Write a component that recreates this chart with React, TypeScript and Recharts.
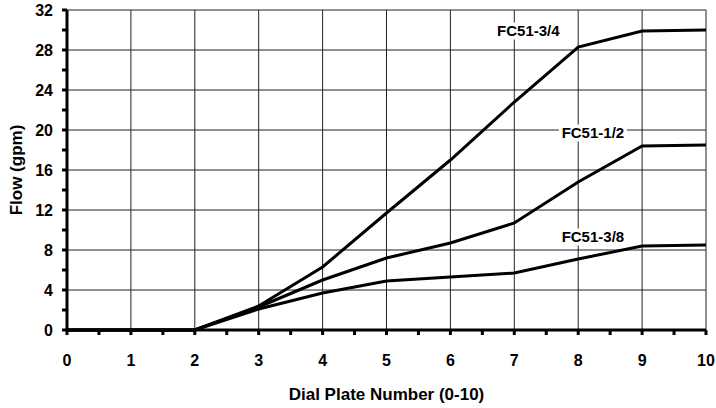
import React from 'react';
import {
  LineChart,
  Line,
  XAxis,
  YAxis,
  CartesianGrid,
  ReferenceDot,
} from 'recharts';

const dialPlate = [0, 1, 2, 3, 4, 5, 6, 7, 8, 9, 10];
const flow34 = [0, 0, 0, 2.4, 6.3, 11.7, 17.0, 22.8, 28.3, 29.9, 30.0];
const flow12 = [0, 0, 0, 2.3, 5.0, 7.2, 8.7, 10.7, 14.8, 18.4, 18.5];
const flow38 = [0, 0, 0, 2.1, 3.7, 4.9, 5.3, 5.7, 7.1, 8.4, 8.5];

const xTicks = [0, 0.5, 1, 1.5, 2, 2.5, 3, 3.5, 4, 4.5, 5, 5.5, 6, 6.5, 7, 7.5, 8, 8.5, 9, 9.5, 10];
const yTicks = [0, 2, 4, 6, 8, 10, 12, 14, 16, 18, 20, 22, 24, 26, 28, 30, 32];
const xGrid = [1, 2, 3, 4, 5, 6, 7, 8, 9, 10];
const yGrid = [4, 8, 12, 16, 20, 24, 28, 32];

const seriesLabels = [
  { name: 'FC51-3/4', x: 7.22, y: 29.9 },
  { name: 'FC51-1/2', x: 8.23, y: 19.7 },
  { name: 'FC51-3/8', x: 8.23, y: 9.3 },
];

const data = dialPlate.map((d, i) => ({
  dial: d,
  fc34: flow34[i],
  fc12: flow12[i],
  fc38: flow38[i],
}));

const FONT = '"Liberation Sans", Arial, sans-serif';

const XTick = (props: any) => {
  const { x, y, payload } = props;
  if (!Number.isInteger(payload.value)) return null;
  return (
    <text x={x} y={y} dy="0.71em" textAnchor="middle" fontFamily={FONT} fontWeight="bold" fontSize={16} fill="#000">
      {payload.value}
    </text>
  );
};

const YTick = (props: any) => {
  const { x, y, payload } = props;
  if (payload.value % 4 !== 0) return null;
  return (
    <text x={x} y={y} dy="0.355em" textAnchor="end" fontFamily={FONT} fontWeight="bold" fontSize={16} fill="#000">
      {payload.value}
    </text>
  );
};

const SeriesTag = ({ viewBox, value }: any) => {
  const w = 68;
  const h = 17;
  return (
    <g>
      <rect x={viewBox.x - w / 2} y={viewBox.y - h / 2} width={w} height={h} fill="#fff" />
      <text x={viewBox.x} y={viewBox.y} dy="0.355em" textAnchor="middle" fontFamily={FONT} fontWeight="bold" fontSize={15} fill="#000">
        {value}
      </text>
    </g>
  );
};

export default function App() {
  return (
    <>
      <style>{'body{margin:0}'}</style>
      <LineChart width={716} height={408} data={data} margin={{ top: 10, right: 10, left: 0, bottom: 0 }}>
        <CartesianGrid
          stroke="#222"
          strokeWidth={1}
          horizontalValues={yGrid}
          verticalValues={xGrid}
        />
        <XAxis
          dataKey="dial"
          type="number"
          domain={[0, 10]}
          ticks={xTicks}
          interval={0}
          height={78}
          tickSize={5}
          tickMargin={20}
          axisLine={{ stroke: '#000', strokeWidth: 3 }}
          tickLine={{ stroke: '#000', strokeWidth: 3 }}
          tick={<XTick />}
          label={{
            content: ({ viewBox }: any) => (
              <text
                x={viewBox.x + viewBox.width / 2}
                y={viewBox.y + 70}
                textAnchor="middle"
                fontFamily={FONT}
                fontWeight="bold"
                fontSize={17}
                fill="#000"
              >
                Dial Plate Number (0-10)
              </text>
            ),
          }}
        />
        <YAxis
          type="number"
          domain={[0, 32]}
          ticks={yTicks}
          interval={0}
          width={67}
          tickSize={5}
          tickMargin={9}
          axisLine={{ stroke: '#000', strokeWidth: 3 }}
          tickLine={{ stroke: '#000', strokeWidth: 3 }}
          tick={<YTick />}
          label={{
            content: ({ viewBox }: any) => {
              const cx = 16;
              const cy = viewBox.y + viewBox.height / 2;
              return (
                <text
                  x={cx}
                  y={cy}
                  dy="0.355em"
                  transform={`rotate(-90 ${cx} ${cy})`}
                  textAnchor="middle"
                  fontFamily={FONT}
                  fontWeight="bold"
                  fontSize={17}
                  fill="#000"
                >
                  Flow (gpm)
                </text>
              );
            },
          }}
        />
        <Line type="linear" dataKey="fc34" stroke="#000" strokeWidth={3} dot={false} isAnimationActive={false} />
        <Line type="linear" dataKey="fc12" stroke="#000" strokeWidth={3} dot={false} isAnimationActive={false} />
        <Line type="linear" dataKey="fc38" stroke="#000" strokeWidth={3} dot={false} isAnimationActive={false} />
        {seriesLabels.map((s) => (
          <ReferenceDot
            key={s.name}
            x={s.x}
            y={s.y}
            r={0}
            fill="none"
            stroke="none"
            label={<SeriesTag value={s.name} />}
          />
        ))}
      </LineChart>
    </>
  );
}
